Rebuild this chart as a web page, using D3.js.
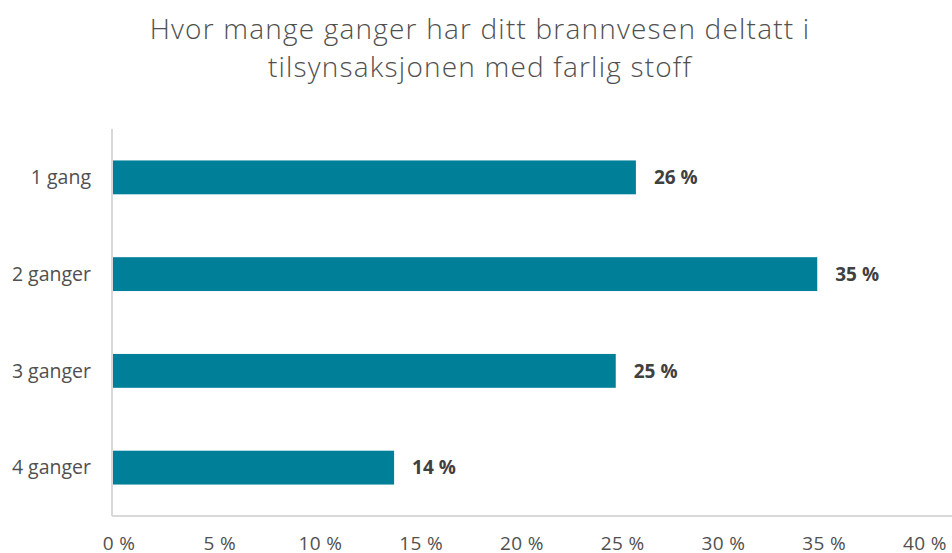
<!DOCTYPE html>
<html>
<head>
<meta charset="utf-8">
<script src="https://cdn.jsdelivr.net/npm/d3@7"></script>
<style>
  body { margin: 0; background: #fff; }
  svg { display: block; font-family: "Open Sans", sans-serif; }
</style>
</head>
<body>
<svg width="952" height="553"></svg>
<script>
// chart data
var categories = ["1 gang", "2 ganger", "3 ganger", "4 ganger"];
var values = [26, 35, 25, 14];
var ticks = [0, 5, 10, 15, 20, 25, 30, 35, 40];
var titleLines = ["Hvor mange ganger har ditt brannvesen deltatt i",
                  "tilsynsaksjonen med farlig stoff"];

var svg = d3.select("svg");
var margin = {top: 129, right: 34, bottom: 37, left: 112};
var width = 952 - margin.left - margin.right;
var height = 553 - margin.top - margin.bottom;

var x = d3.scaleLinear().domain([0, 40]).range([0, width]);
var y = d3.scaleBand().domain(categories).range([0, height])
    .paddingInner(0.65).paddingOuter(0.325);

// title
svg.append("text")
    .attr("x", 480)
    .attr("text-anchor", "middle")
    .style("font-size", "28px")
    .style("font-weight", 300)
    .style("letter-spacing", "1.2px")
    .attr("fill", "#505050")
    .selectAll("tspan")
    .data(titleLines)
    .enter().append("tspan")
    .attr("x", 480)
    .attr("y", function(d, i) { return 39 + i * 38; })
    .text(function(d) { return d; });

var g = svg.append("g")
    .attr("transform", "translate(" + margin.left + "," + margin.top + ")");

// axis lines
g.append("line")
    .attr("x1", 0).attr("x2", 0)
    .attr("y1", 0).attr("y2", height)
    .attr("stroke", "#d9d9d9").attr("stroke-width", 2);
g.append("line")
    .attr("x1", 0).attr("x2", 952 - margin.left)
    .attr("y1", height).attr("y2", height)
    .attr("stroke", "#d9d9d9").attr("stroke-width", 2);

// x tick labels
g.selectAll(".xtick")
    .data(ticks)
    .enter().append("text")
    .attr("class", "xtick")
    .attr("x", function(d) { return x(d) + 7; })
    .attr("y", height + 34)
    .attr("text-anchor", "middle")
    .style("font-size", "19px")
    .style("letter-spacing", "0.4px")
    .attr("fill", "#505050")
    .text(function(d) { return d + " %"; });

// category labels
g.selectAll(".ylab")
    .data(categories)
    .enter().append("text")
    .attr("class", "ylab")
    .attr("x", -21)
    .attr("y", function(d) { return y(d) + y.bandwidth() / 2; })
    .attr("dy", "0.35em")
    .attr("text-anchor", "end")
    .style("font-size", "19.5px")
    .attr("fill", "#505050")
    .text(function(d) { return d; });

// bars
g.selectAll(".bar")
    .data(values)
    .enter().append("rect")
    .attr("class", "bar")
    .attr("x", 1)
    .attr("y", function(d, i) { return y(categories[i]); })
    .attr("width", function(d) { return x(d) - 1; })
    .attr("height", y.bandwidth())
    .attr("fill", "#007f99");

// value labels
g.selectAll(".val")
    .data(values)
    .enter().append("text")
    .attr("class", "val")
    .attr("x", function(d) { return x(d) + 18; })
    .attr("y", function(d, i) { return y(categories[i]) + y.bandwidth() / 2; })
    .attr("dy", "0.35em")
    .style("font-size", "19px")
    .style("font-weight", 700)
    .attr("fill", "#404040")
    .text(function(d) { return d + " %"; });
</script>
</body>
</html>
